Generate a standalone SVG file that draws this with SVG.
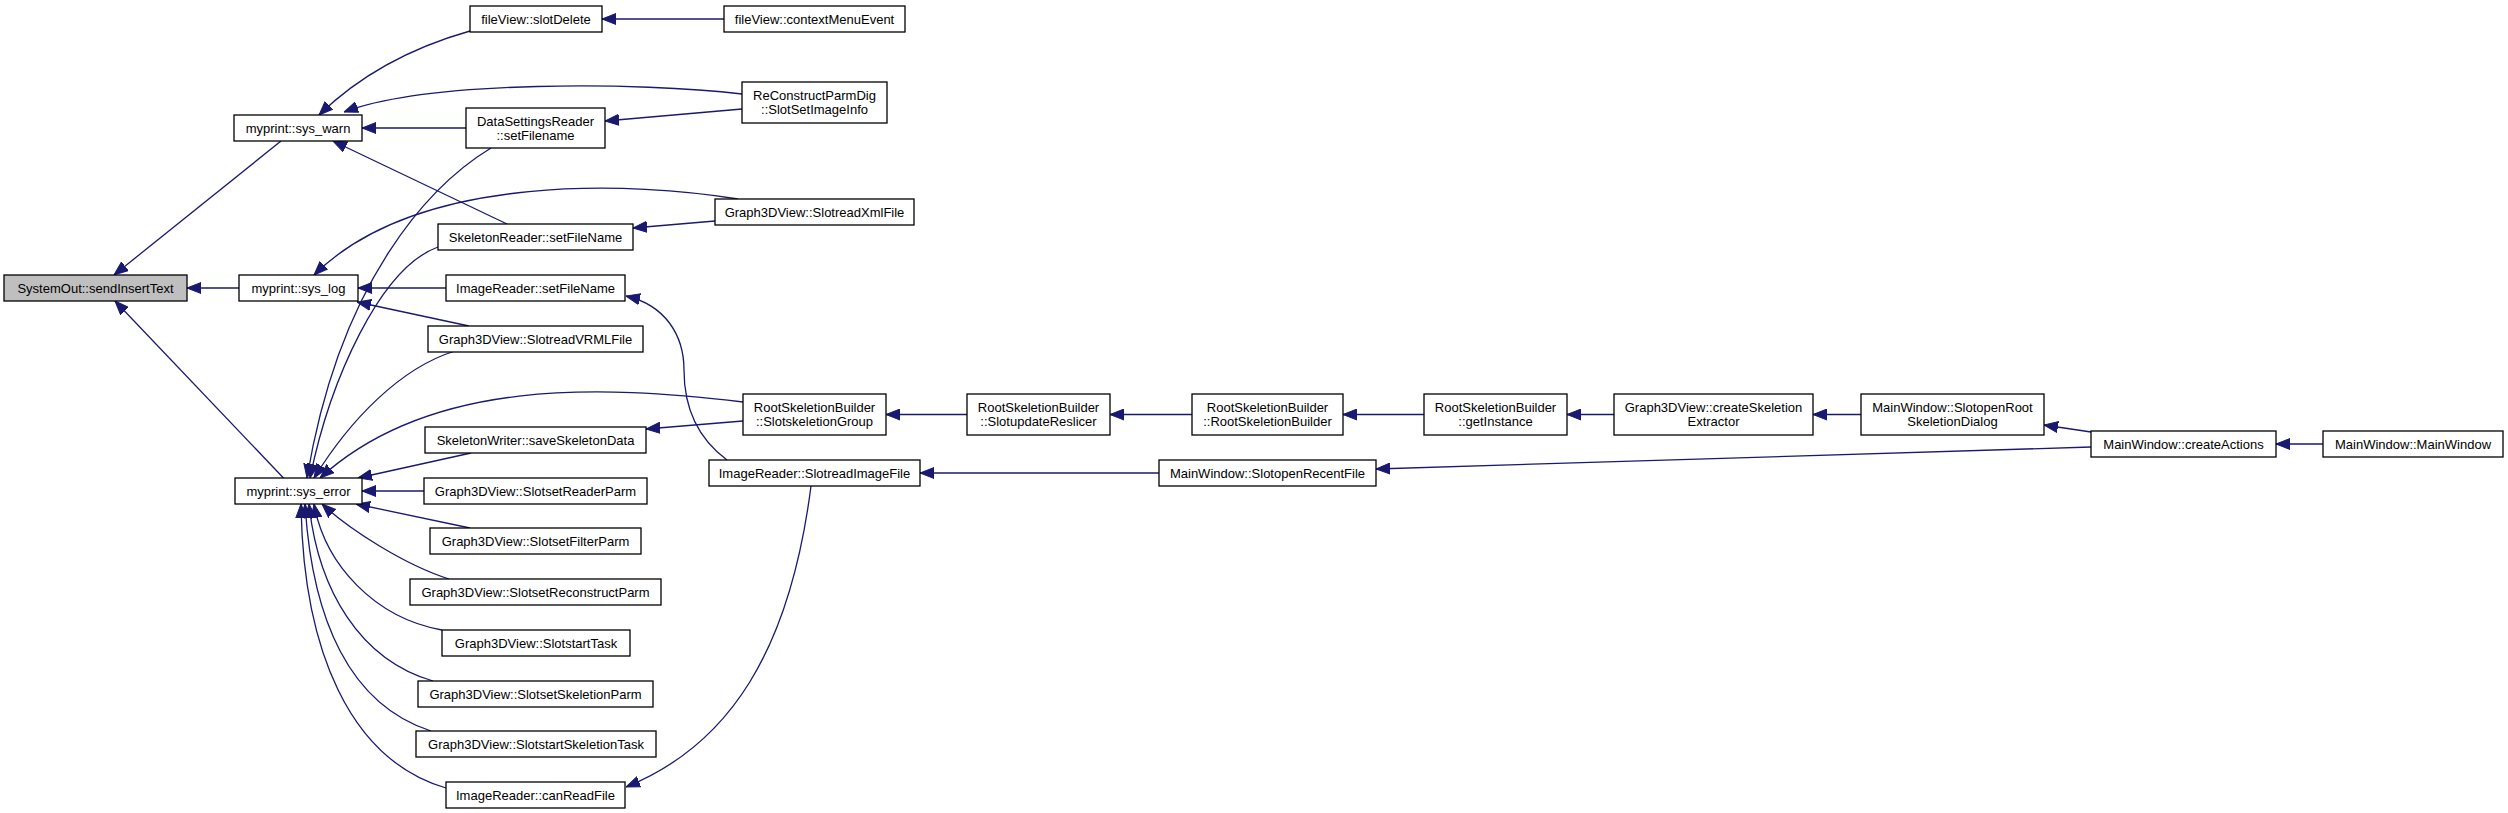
<svg xmlns="http://www.w3.org/2000/svg" width="2508" height="813" viewBox="0 0 2508 813">
<style>
.n rect{fill:#ffffff;stroke:#000000;stroke-width:1.3}
.n.root rect{fill:#bfbfbf}
.n text{font-family:"Liberation Sans",Arial,sans-serif;font-size:13px;text-anchor:middle;fill:#000000}
.e path{fill:none;stroke:#191970;stroke-width:1.3;marker-end:url(#arr)}
</style>
<defs>
<marker id="arr" markerUnits="userSpaceOnUse" markerWidth="14" markerHeight="12" refX="14" refY="6" orient="auto" viewBox="0 0 14 12">
<path d="M0,0.5 L14,6 L0,11.5 Z" fill="#191970" stroke="#191970" stroke-width="1"/>
</marker>
</defs>
<rect x="0" y="0" width="2508" height="813" fill="#ffffff"/>
<g id="edges" class="e">
<path d="M281,141 L114,275"/>
<path d="M239,288 L187,288"/>
<path d="M283.5,478 L115,301"/>
<path d="M470,31 C410,48 360,75 319,115"/>
<path d="M724,19 L602,19"/>
<path d="M742,94 C640,82 430,80 344,112"/>
<path d="M466,128 L362,128"/>
<path d="M742,109 L605,121"/>
<path d="M507,224 L333,141"/>
<path d="M715,221 L633,228"/>
<path d="M738,199 C640,183 420,170 314,275"/>
<path d="M446,288 L358,288"/>
<path d="M469,326 L357,302"/>
<path d="M491,148 C430,185 340,280 307,478"/>
<path d="M438,247 C380,268 330,380 310,478"/>
<path d="M455,351 C400,368 350,420 314,478"/>
<path d="M743,402 C600,385 430,378 320,478"/>
<path d="M743,421 L646,429"/>
<path d="M471,453 L358,478"/>
<path d="M424,491 L362,491"/>
<path d="M470,528 L356,504"/>
<path d="M449,579 C405,565 350,530 322,504"/>
<path d="M442,630 C375,618 325,565 314,504"/>
<path d="M433,681 C360,660 318,590 309,504"/>
<path d="M431,731 C350,705 312,620 305,504"/>
<path d="M446,788 C350,760 303,650 301,504"/>
<path d="M727,460 C700,440 684,410 684,370 C684,335 665,305 626,296"/>
<path d="M811,486 C790,650 730,745 626,787"/>
<path d="M967,414.5 L886,414.5"/>
<path d="M1192,414.5 L1110,414.5"/>
<path d="M1424,414.5 L1343,414.5"/>
<path d="M1614,414.5 L1567,414.5"/>
<path d="M1861,414.5 L1813,414.5"/>
<path d="M2091,432 L2044,425"/>
<path d="M2091,447 L1376,469"/>
<path d="M2323,444 L2276,444"/>
<path d="M1159,473 L920,473"/>
</g>
<g id="n_sysout" class="n root"><rect x="4" y="275" width="183" height="26"/><text x="95.5" y="292.5">SystemOut::sendInsertText</text></g>
<g id="n_warn" class="n"><rect x="234" y="115" width="128" height="26"/><text x="298" y="132.5">myprint::sys_warn</text></g>
<g id="n_log" class="n"><rect x="239" y="275" width="119" height="26"/><text x="298.5" y="292.5">myprint::sys_log</text></g>
<g id="n_error" class="n"><rect x="235" y="478" width="127" height="26"/><text x="298.5" y="495.5">myprint::sys_error</text></g>
<g id="n_slotDelete" class="n"><rect x="470" y="6" width="132" height="26"/><text x="536" y="23.5">fileView::slotDelete</text></g>
<g id="n_ctxMenu" class="n"><rect x="724" y="6" width="181" height="26"/><text x="814.5" y="23.5">fileView::contextMenuEvent</text></g>
<g id="n_dataSettings" class="n"><rect x="466" y="108" width="139" height="40"/><text x="535.5" y="125.5">DataSettingsReader</text><text x="535.5" y="139.5">::setFilename</text></g>
<g id="n_reconstruct" class="n"><rect x="742" y="82" width="145" height="41"/><text x="814.5" y="100">ReConstructParmDig</text><text x="814.5" y="114">::SlotSetImageInfo</text></g>
<g id="n_skelReader" class="n"><rect x="438" y="224" width="195" height="26"/><text x="535.5" y="241.5">SkeletonReader::setFileName</text></g>
<g id="n_xml" class="n"><rect x="715" y="199" width="199" height="26"/><text x="814.5" y="216.5">Graph3DView::SlotreadXmlFile</text></g>
<g id="n_imgSetFile" class="n"><rect x="446" y="275" width="179" height="26"/><text x="535.5" y="292.5">ImageReader::setFileName</text></g>
<g id="n_vrml" class="n"><rect x="428" y="326" width="215" height="26"/><text x="535.5" y="343.5">Graph3DView::SlotreadVRMLFile</text></g>
<g id="n_skelGroup" class="n"><rect x="743" y="394" width="143" height="41"/><text x="814.5" y="412">RootSkeletionBuilder</text><text x="814.5" y="426">::SlotskeletionGroup</text></g>
<g id="n_saveSkel" class="n"><rect x="425" y="427" width="221" height="26"/><text x="535.5" y="444.5">SkeletonWriter::saveSkeletonData</text></g>
<g id="n_readImg" class="n"><rect x="709" y="460" width="211" height="26"/><text x="814.5" y="477.5">ImageReader::SlotreadImageFile</text></g>
<g id="n_readerParm" class="n"><rect x="424" y="478" width="223" height="26"/><text x="535.5" y="495.5">Graph3DView::SlotsetReaderParm</text></g>
<g id="n_filterParm" class="n"><rect x="430" y="528" width="211" height="26"/><text x="535.5" y="545.5">Graph3DView::SlotsetFilterParm</text></g>
<g id="n_reconParm" class="n"><rect x="410" y="579" width="251" height="26"/><text x="535.5" y="596.5">Graph3DView::SlotsetReconstructParm</text></g>
<g id="n_startTask" class="n"><rect x="442" y="630" width="188" height="26"/><text x="536" y="647.5">Graph3DView::SlotstartTask</text></g>
<g id="n_skelParm" class="n"><rect x="418" y="681" width="235" height="26"/><text x="535.5" y="698.5">Graph3DView::SlotsetSkeletionParm</text></g>
<g id="n_startSkel" class="n"><rect x="416" y="731" width="240" height="26"/><text x="536" y="748.5">Graph3DView::SlotstartSkeletionTask</text></g>
<g id="n_canRead" class="n"><rect x="446" y="782" width="179" height="26"/><text x="535.5" y="799.5">ImageReader::canReadFile</text></g>
<g id="n_reslicer" class="n"><rect x="967" y="394" width="143" height="41"/><text x="1038.5" y="412">RootSkeletionBuilder</text><text x="1038.5" y="426">::SlotupdateReslicer</text></g>
<g id="n_rsbCtor" class="n"><rect x="1192" y="394" width="151" height="41"/><text x="1267.5" y="412">RootSkeletionBuilder</text><text x="1267.5" y="426">::RootSkeletionBuilder</text></g>
<g id="n_getInst" class="n"><rect x="1424" y="394" width="143" height="41"/><text x="1495.5" y="412">RootSkeletionBuilder</text><text x="1495.5" y="426">::getInstance</text></g>
<g id="n_recentFile" class="n"><rect x="1159" y="460" width="217" height="26"/><text x="1267.5" y="477.5">MainWindow::SlotopenRecentFile</text></g>
<g id="n_createExtr" class="n"><rect x="1614" y="394" width="199" height="41"/><text x="1713.5" y="412">Graph3DView::createSkeletion</text><text x="1713.5" y="426">Extractor</text></g>
<g id="n_openRoot" class="n"><rect x="1861" y="394" width="183" height="41"/><text x="1952.5" y="412">MainWindow::SlotopenRoot</text><text x="1952.5" y="426">SkeletionDialog</text></g>
<g id="n_createActions" class="n"><rect x="2091" y="431" width="185" height="26"/><text x="2183.5" y="448.5">MainWindow::createActions</text></g>
<g id="n_mainWin" class="n"><rect x="2323" y="431" width="180" height="26"/><text x="2413" y="448.5">MainWindow::MainWindow</text></g>
</svg>
